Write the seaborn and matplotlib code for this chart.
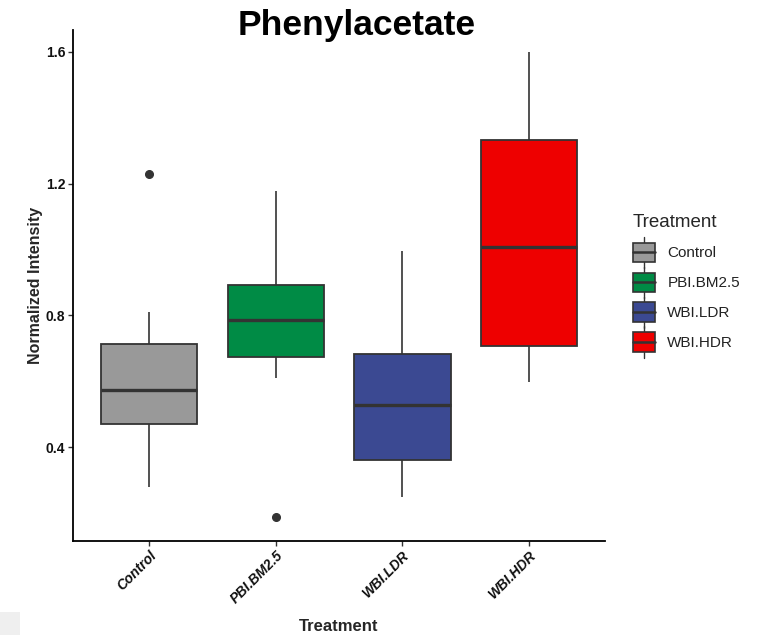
import numpy as np
import pandas as pd
import matplotlib
matplotlib.use("Agg")
import matplotlib.pyplot as plt
import seaborn as sns
from matplotlib.patches import Rectangle, Patch
from matplotlib.lines import Line2D
from matplotlib.legend_handler import HandlerBase

# ---- data ----
categories = ["Control", "PBI.BM2.5", "WBI.LDR", "WBI.HDR"]
control_vals = [0.279, 0.42, 0.47, 0.52, 0.573, 0.65, 0.712, 0.809, 1.23]
pbi_vals = [0.188, 0.609, 0.673, 0.73, 0.785, 0.84, 0.891, 1.00, 1.179]
ldr_vals = [0.248, 0.30, 0.361, 0.45, 0.527, 0.60, 0.682, 0.80, 0.997]
hdr_vals = [0.597, 0.65, 0.706, 0.85, 1.009, 1.15, 1.333, 1.45, 1.600]
colors = ["#999999", "#008B45", "#3B4992", "#EE0000"]
y_ticks = [0.4, 0.8, 1.2, 1.6]

df = pd.DataFrame({
    "Treatment": np.repeat(categories, [len(control_vals), len(pbi_vals), len(ldr_vals), len(hdr_vals)]),
    "Normalized Intensity": control_vals + pbi_vals + ldr_vals + hdr_vals,
})

sns.set_theme(style="ticks")
plt.rcParams["font.family"] = ["Liberation Sans", "DejaVu Sans"]

fig = plt.figure(figsize=(7.68, 6.35), dpi=100)
ax = fig.add_axes([0.095, 0.1485, 0.693, 0.805])

edge = "#333333"
sns.boxplot(
    data=df, x="Treatment", y="Normalized Intensity", hue="Treatment",
    order=categories, hue_order=categories, palette=colors, width=0.76,
    saturation=1, linewidth=1.2, linecolor=edge, dodge=False, legend=True, ax=ax,
    medianprops=dict(color=edge, linewidth=2.4),
    whiskerprops=dict(color=edge, linewidth=1.2),
    capprops=dict(linewidth=0),
    boxprops=dict(edgecolor=edge, linewidth=1.3),
    flierprops=dict(marker="o", markerfacecolor=edge, markeredgecolor=edge, markersize=5.5),
)

ax.set_xlim(-0.6, 3.6)
ax.set_ylim(0.116, 1.668)
ax.set_yticks(y_ticks)
ax.set_yticklabels([f"{v:.1f}" for v in y_ticks], fontsize=10, fontweight="bold", color="#111111")
ax.set_xticks(range(len(categories)))
ax.set_xticklabels(categories, rotation=45, ha="right", rotation_mode="anchor",
                   fontsize=10, fontweight="bold", fontstyle="italic", color="#111111")
ax.tick_params(axis="both", length=3.5, width=1.0, color="#333333", pad=2)
ax.set_xlabel("Treatment", fontsize=12, fontweight="bold", labelpad=9)
ax.set_ylabel("Normalized Intensity", fontsize=11.5, fontweight="bold", labelpad=2)
sns.despine(ax=ax)
for s in ["left", "bottom"]:
    ax.spines[s].set_linewidth(1.3)
    ax.spines[s].set_color("black")


class BoxHandler(HandlerBase):
    def create_artists(self, legend, orig_handle, xdescent, ydescent, width, height, fontsize, trans):
        fc = orig_handle.get_facecolor()
        cx = -xdescent + width / 2
        bw = width * 0.95
        bh = height * 1.1
        x0 = cx - bw / 2
        y0 = -ydescent + (height - bh) / 2
        w1 = Line2D([cx, cx], [y0 - height * 0.33, y0], color=edge, lw=1.0, transform=trans)
        w2 = Line2D([cx, cx], [y0 + bh, y0 + bh + height * 0.33], color=edge, lw=1.0, transform=trans)
        r = Rectangle((x0, y0), bw, bh, facecolor=fc, edgecolor=edge, lw=1.2, transform=trans)
        m = Line2D([x0, x0 + bw], [y0 + bh / 2, y0 + bh / 2], color=edge, lw=1.8, transform=trans)
        return [w1, w2, r, m]


handles = [Patch(facecolor=c) for c in colors]
leg = ax.legend(handles, categories, title="Treatment", loc="center left",
                bbox_to_anchor=(1.025, 0.505), frameon=False, fontsize=11,
                title_fontsize=13.5, handler_map={Patch: BoxHandler()},
                handlelength=1.5, handleheight=1.4, handletextpad=0.8, labelspacing=0.8)
leg._legend_box.align = "left"
for t in leg.get_texts():
    t.set_color("#222222")

fig.text(357 / 768, 1 - 26 / 635, "Phenylacetate", ha="center", va="center",
         fontsize=25.5, fontweight="bold", color="black")

# light gray strip at bottom-left of the screenshot
fig.patches.append(Rectangle((0, 0), 20 / 768, 23 / 635, transform=fig.transFigure,
                             facecolor="#efefef", edgecolor="none"))

fig.savefig("out.png", dpi=100)
